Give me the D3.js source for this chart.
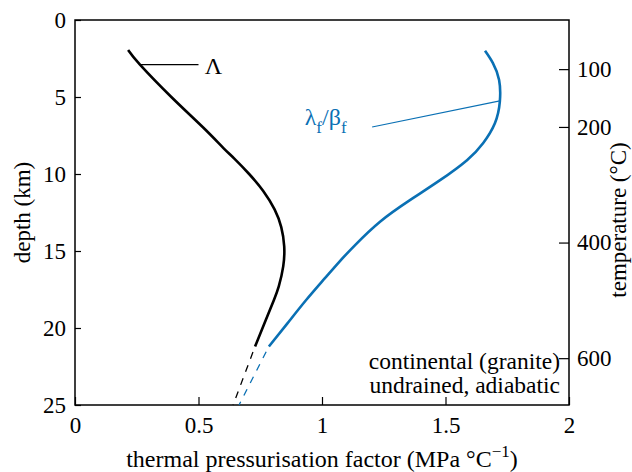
<!DOCTYPE html>
<html lang="en">
<head>
  <meta charset="utf-8">
  <title>thermal pressurisation factor</title>
  <script src="https://d3js.org/d3.v7.min.js"></script>
  <style>
  body { margin: 0; background: #fff; }
  svg text { font-family: "Liberation Serif", "Times New Roman", serif; }
  </style>
</head>
<body>
  <script>
  // Lambda curve (black): depth km, factor
  var lambdaDepth = [1.95, 2.9, 5, 7, 8.3, 9.0, 10, 11.1, 12.3, 13.45, 14.7, 16.0, 17.3, 18.2, 19.5, 21.2];
  var lambdaVal   = [0.215, 0.263, 0.39, 0.52, 0.6, 0.645, 0.705, 0.762, 0.808, 0.835, 0.847, 0.843, 0.825, 0.805, 0.772, 0.729];
  var lambdaDashDepth = [21.2, 25];
  var lambdaDashVal   = [0.729, 0.64];

  // lambda_f / beta_f curve (blue)
  var ratioDepth = [2.0, 2.8, 3.9, 5.3, 6.7, 8.0, 9.1, 10.4, 11.7, 13.1, 14.6, 15.7, 16.8, 18.2, 19.7, 21.2];
  var ratioVal   = [1.66, 1.692, 1.717, 1.72, 1.70, 1.652, 1.587, 1.478, 1.356, 1.235, 1.135, 1.07, 1.01, 0.935, 0.86, 0.785];
  var ratioDashDepth = [21.2, 25];
  var ratioDashVal   = [0.785, 0.664];

  var xTicks = [0, 0.5, 1, 1.5, 2];
  var xTickLabels = ["0", "0.5", "1", "1.5", "2"];
  var yTicks = [0, 5, 10, 15, 20, 25];
  var tempTicks = [100, 200, 400, 600];

  var width = 632, height = 472;
  var m = {left: 75, right: 569, top: 20, bottom: 405};
  var blue = "#0a70b4";
  var serif = "Liberation Serif, Times New Roman, serif";

  var svg = d3.select("body").append("svg")
    .attr("width", width)
    .attr("height", height);

  var x = d3.scaleLinear().domain([0, 2]).range([m.left, m.right]);
  var y = d3.scaleLinear().domain([0, 25]).range([m.top, m.bottom]);
  // temperature is linear with depth (~15 C at surface, ~681 C at 25 km)
  var t = d3.scaleLinear().domain([15, 681]).range([m.top, m.bottom]);

  // frame
  svg.append("rect")
    .attr("x", m.left).attr("y", m.top)
    .attr("width", m.right - m.left).attr("height", m.bottom - m.top)
    .attr("fill", "none").attr("stroke", "black").attr("stroke-width", 1.5);

  var xAxis = svg.append("g")
    .attr("transform", "translate(0," + m.bottom + ")")
    .call(d3.axisBottom(x).tickValues(xTicks).tickSize(-8).tickPadding(12)
      .tickFormat(function(d, i) { return xTickLabels[i]; }));
  var yAxis = svg.append("g")
    .attr("transform", "translate(" + m.left + ",0)")
    .call(d3.axisLeft(y).tickValues(yTicks).tickSize(-6).tickPadding(9));
  var tAxis = svg.append("g")
    .attr("transform", "translate(" + m.right + ",0)")
    .call(d3.axisRight(t).tickValues(tempTicks).tickSize(-10).tickPadding(8));

  [xAxis, yAxis, tAxis].forEach(function(a) {
    a.attr("font-family", serif);
    a.select(".domain").remove();
    a.selectAll(".tick line").attr("stroke", "black").attr("stroke-width", 1.2);
    a.selectAll(".tick text").attr("font-size", 23).attr("fill", "black");
  });

  var line = d3.line()
    .x(function(d) { return x(d[1]); })
    .y(function(d) { return y(d[0]); })
    .curve(d3.curveNatural);

  function pairs(a, b) { return a.map(function(v, i) { return [v, b[i]]; }); }

  svg.append("path")
    .attr("d", line(pairs(lambdaDepth, lambdaVal)))
    .attr("fill", "none").attr("stroke", "black").attr("stroke-width", 2.6);
  svg.append("path")
    .attr("d", line(pairs(lambdaDashDepth, lambdaDashVal)))
    .attr("fill", "none").attr("stroke", "black").attr("stroke-width", 1.3)
    .attr("stroke-dasharray", "7,7").attr("stroke-dashoffset", -6);

  svg.append("path")
    .attr("d", line(pairs(ratioDepth, ratioVal)))
    .attr("fill", "none").attr("stroke", blue).attr("stroke-width", 2.6);
  svg.append("path")
    .attr("d", line(pairs(ratioDashDepth, ratioDashVal)))
    .attr("fill", "none").attr("stroke", blue).attr("stroke-width", 1.3)
    .attr("stroke-dasharray", "7,7").attr("stroke-dashoffset", -6);

  // annotation Lambda
  svg.append("line")
    .attr("x1", x(0.263)).attr("y1", y(2.9))
    .attr("x2", x(0.5)).attr("y2", y(2.9))
    .attr("stroke", "black").attr("stroke-width", 1.2);
  svg.append("text")
    .attr("x", x(0.525)).attr("y", y(2.9) + 9)
    .attr("font-size", 24).text("Λ");

  // annotation lambda_f / beta_f
  svg.append("line")
    .attr("x1", x(1.72)).attr("y1", y(5.25))
    .attr("x2", x(1.203)).attr("y2", y(6.95))
    .attr("stroke", blue).attr("stroke-width", 1.2);
  var lab = svg.append("text")
    .attr("x", x(0.93)).attr("y", y(6.8))
    .attr("font-size", 24).attr("fill", blue);
  lab.append("tspan").text("λ");
  lab.append("tspan").attr("font-size", 17).attr("dy", 8).text("f");
  lab.append("tspan").attr("dy", -8).text("/β");
  lab.append("tspan").attr("font-size", 17).attr("dy", 8).text("f");

  // note
  svg.append("text")
    .attr("x", m.right - 9).attr("y", 369)
    .attr("text-anchor", "end").attr("font-size", 23.5)
    .text("continental (granite)");
  svg.append("text")
    .attr("x", m.right - 9).attr("y", 393)
    .attr("text-anchor", "end").attr("font-size", 23.5)
    .text("undrained, adiabatic");

  // axis titles
  var xt = svg.append("text")
    .attr("x", (m.left + m.right) / 2).attr("y", 467)
    .attr("text-anchor", "middle").attr("font-size", 24);
  xt.append("tspan").text("thermal pressurisation factor (MPa °C");
  xt.append("tspan").attr("font-size", 17).attr("dy", -10).text("−1");
  xt.append("tspan").attr("dy", 10).text(")");

  svg.append("text")
    .attr("transform", "translate(30," + ((m.top + m.bottom) / 2) + ") rotate(-90)")
    .attr("text-anchor", "middle").attr("font-size", 23)
    .text("depth (km)");
  svg.append("text")
    .attr("transform", "translate(626,220) rotate(-90)")
    .attr("text-anchor", "middle").attr("font-size", 23)
    .text("temperature (°C)");
  </script>
</body>
</html>
